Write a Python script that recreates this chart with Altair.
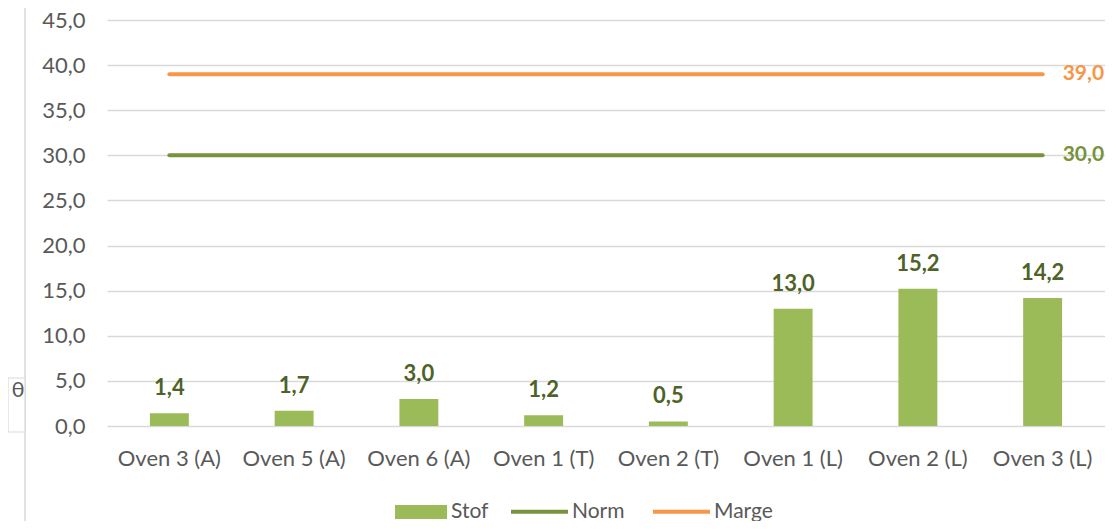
import altair as alt
import pandas as pd

categories = ["Oven 3 (A)", "Oven 5 (A)", "Oven 6 (A)", "Oven 1 (T)",
              "Oven 2 (T)", "Oven 1 (L)", "Oven 2 (L)", "Oven 3 (L)"]
stof = [1.4, 1.7, 3.0, 1.2, 0.5, 13.0, 15.2, 14.2]
norm = [30.0] * 8
marge = [39.0] * 8
series_names = ["Stof", "Norm", "Marge"]
series_colors = ["#9BBB59", "#77933C", "#F79646"]
y_ticks = [0, 5, 10, 15, 20, 25, 30, 35, 40, 45]


def fmt(v):
    return f"{v:.1f}".replace(".", ",")


bars_df = pd.DataFrame({"cat": categories, "value": stof, "series": "Stof",
                        "label": [fmt(v) for v in stof]})
lines_df = pd.DataFrame({
    "cat": categories * 2,
    "value": norm + marge,
    "series": ["Norm"] * 8 + ["Marge"] * 8,
})
lines_df["label"] = lines_df["value"].map(fmt)
end_df = lines_df[lines_df["cat"] == categories[-1]]

FONT = "Lato"

x_enc = alt.X("cat:N", sort=categories, title=None,
              scale=alt.Scale(paddingInner=0.688, paddingOuter=0.344),
              axis=alt.Axis(labelAngle=0, labelPadding=22, labelFontSize=22,
                            labelColor="#595959", labelFont=FONT, grid=False))
y_enc = alt.Y("value:Q", title=None,
              scale=alt.Scale(domain=[0, 45], nice=False),
              axis=alt.Axis(values=y_ticks, labelPadding=22, labelFontSize=22,
                            labelColor="#595959", labelFont=FONT,
                            labelExpr="replace(format(datum.value, '.1f'), '.', ',')",
                            gridColor="#d9d9d9", gridWidth=1.3))

bar_legend = alt.Legend(
    title=None, orient="none", direction="horizontal", legendX=288, legendY=466,
    labelFont=FONT, labelFontSize=21, labelColor="#595959", labelOffset=4,
    symbolType="M-1,-0.27H1V0.27H-1Z", symbolSize=2704, symbolStrokeWidth=0,
    symbolOpacity=1,
)
line_legend = alt.Legend(
    title=None, orient="none", direction="horizontal", legendX=402, legendY=461,
    labelFont=FONT, labelFontSize=21, labelColor="#595959", labelOffset=2,
    columnPadding=20, symbolType="stroke", symbolSize=3249, symbolStrokeWidth=4,
    symbolOpacity=1,
)

bars = alt.Chart(bars_df).mark_bar().encode(
    x=x_enc, y=y_enc,
    fill=alt.Fill("series:N", scale=alt.Scale(domain=["Stof"], range=[series_colors[0]]),
                  legend=bar_legend),
)
bar_labels = alt.Chart(bars_df).mark_text(
    font=FONT, fontSize=22, fontWeight="bold", color="#4F6228",
    baseline="alphabetic", dy=-18,
).encode(x=alt.X("cat:N", sort=categories), y="value:Q", text="label:N")

lines = alt.Chart(lines_df).mark_line(strokeWidth=4, strokeCap="round").encode(
    x=alt.X("cat:N", sort=categories), y="value:Q",
    stroke=alt.Stroke("series:N", sort=series_names[1:],
                      scale=alt.Scale(domain=series_names[1:], range=series_colors[1:]),
                      legend=line_legend),
    detail="series:N",
)
line_labels = alt.Chart(end_df).mark_text(
    font=FONT, fontSize=21, fontWeight="bold", align="left", baseline="middle", dx=20,
).encode(
    x=alt.X("cat:N", sort=categories), y="value:Q", text="label:N",
    color=alt.Color("series:N", scale=alt.Scale(domain=series_names, range=series_colors),
                    legend=None),
)

deco_df = pd.DataFrame({"t": ["θ"]})
edge_rule = alt.Chart(deco_df).mark_rule(color="#d9d9d9", strokeWidth=1.5).encode(
    x=alt.value(-82), y=alt.value(-20), y2=alt.value(509))
edge_box = alt.Chart(deco_df).mark_rect(fill="white", stroke="#d9d9d9", strokeWidth=1.2).encode(
    x=alt.value(-99), x2=alt.value(-82), y=alt.value(358), y2=alt.value(412))
edge_text = alt.Chart(deco_df).mark_text(font=FONT, fontSize=22, color="#595959",
                                         align="center", baseline="middle").encode(
    x=alt.value(-89), y=alt.value(370), text="t:N")

chart = alt.layer(bars, bar_labels, lines, line_labels, edge_rule, edge_box, edge_text).properties(
    width=998, height=406,
    padding={"left": 99, "top": 12, "right": 0, "bottom": 95},
    autosize=alt.AutoSizeParams(type="none"),
).configure_view(stroke=None).configure_axis(domain=False, ticks=False)

chart.save("out.html", embed_options={"renderer": "svg", "actions": False})
